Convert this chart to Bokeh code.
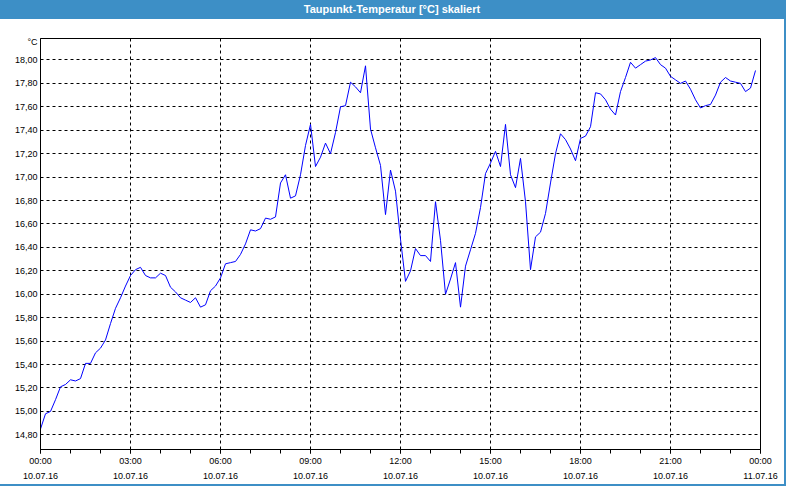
import pandas as pd
from bokeh.plotting import figure
from bokeh.models import (ColumnDataSource, Range1d, FixedTicker, Div)
from bokeh.layouts import column
from bokeh.embed import file_html
from bokeh.resources import INLINE

# ---------------- data ----------------
title_text = "Taupunkt-Temperatur [°C] skaliert"
unit_text = "°C"
unit_position = 18.15
start_time = "2016-07-10 00:00"
end_time = "2016-07-11 00:00"

dew_point = [
    14.85, 14.98, 15.00, 15.10, 15.21, 15.23, 15.27, 15.26, 15.28, 15.41,
    15.41, 15.50, 15.54, 15.61, 15.75, 15.88, 15.97, 16.07, 16.16, 16.21,
    16.23, 16.16, 16.14, 16.14, 16.18, 16.16, 16.06, 16.02, 15.97, 15.95,
    15.93, 15.97, 15.89, 15.91, 16.03, 16.07, 16.14, 16.26, 16.27, 16.28,
    16.34, 16.43, 16.55, 16.54, 16.56, 16.65, 16.64, 16.66, 16.95, 17.02,
    16.82, 16.84, 17.02, 17.27, 17.45, 17.09, 17.17, 17.29, 17.20, 17.38,
    17.60, 17.61, 17.81, 17.77, 17.72, 17.95, 17.41, 17.25, 17.10, 16.68,
    17.06, 16.88, 16.47, 16.11, 16.20, 16.39, 16.33, 16.33, 16.28, 16.79,
    16.46, 16.00, 16.13, 16.27, 15.89, 16.24, 16.38, 16.52, 16.74, 17.03,
    17.12, 17.22, 17.09, 17.45, 17.02, 16.91, 17.16, 16.79, 16.21, 16.49,
    16.53, 16.69, 16.95, 17.20, 17.37, 17.32, 17.24, 17.14, 17.33, 17.35,
    17.43, 17.72, 17.71, 17.66, 17.58, 17.53, 17.73, 17.85, 17.98, 17.93,
    17.96, 17.99, 18.00, 18.02, 17.96, 17.93, 17.86, 17.83, 17.80, 17.82,
    17.75, 17.66, 17.59, 17.61, 17.62, 17.70, 17.81, 17.85, 17.82, 17.81,
    17.80, 17.73, 17.76, 17.91,
]

x_tick_times = ["2016-07-10 00:00", "2016-07-10 03:00", "2016-07-10 06:00",
                "2016-07-10 09:00", "2016-07-10 12:00", "2016-07-10 15:00",
                "2016-07-10 18:00", "2016-07-10 21:00", "2016-07-11 00:00"]
x_tick_hours = ["00:00", "03:00", "06:00", "09:00", "12:00", "15:00",
                "18:00", "21:00", "00:00"]
x_tick_dates = ["10.07.16", "10.07.16", "10.07.16", "10.07.16", "10.07.16",
                "10.07.16", "10.07.16", "10.07.16", "11.07.16"]

y_tick_values = [14.8, 15.0, 15.2, 15.4, 15.6, 15.8, 16.0, 16.2, 16.4,
                 16.6, 16.8, 17.0, 17.2, 17.4, 17.6, 17.8, 18.0]
y_tick_labels = ["14,80", "15,00", "15,20", "15,40", "15,60", "15,80",
                 "16,00", "16,20", "16,40", "16,60", "16,80", "17,00",
                 "17,20", "17,40", "17,60", "17,80", "18,00"]

y_min, y_max = 14.675, 18.183

# ---------------- build ----------------
def to_ms(s):
    return int(pd.Timestamp(s).value // 10**6)

times = pd.date_range(start_time, periods=len(dew_point), freq="10min")
source = ColumnDataSource(data=dict(t=times, v=dew_point))

x_major = [to_ms(s) for s in x_tick_times]
x_minor = [to_ms(s) for s in pd.date_range(start_time, end_time, freq="1h")]

FONT = "Liberation Sans"
BLUE = "#3d8fc6"
W, H_TITLE, H_FIG = 784, 19, 465

p = figure(width=W, height=H_FIG, x_axis_type="datetime",
           x_range=Range1d(to_ms(start_time), to_ms(end_time)),
           y_range=Range1d(y_min, y_max),
           output_backend="svg", toolbar_location=None,
           min_border_left=40, min_border_right=24,
           min_border_top=19, min_border_bottom=0)
p.background_fill_color = "white"
p.border_fill_color = "white"
p.outline_line_color = "black"
p.outline_line_width = 1

p.line("t", "v", source=source, line_color="#0000ff", line_width=1)

# x axis (two-line labels: time / date)
xax = p.xaxis[0]
xax.ticker = FixedTicker(ticks=x_major, minor_ticks=x_minor)
xax.major_label_overrides = {t: f"{h}\n{d}" for t, h, d in
                             zip(x_major, x_tick_hours, x_tick_dates)}
xax.major_tick_in = 0
xax.major_tick_out = 4
xax.minor_tick_in = 0
xax.minor_tick_out = 4
xax.major_label_standoff = 2
xax.major_label_text_font = FONT
xax.major_label_text_font_size = "9px"
xax.major_label_text_color = "black"
xax.major_label_text_line_height = 1.55
xax.axis_line_color = "black"

# y axis (plus the unit shown at the top of the scale)
yax = p.yaxis[0]
yax.ticker = FixedTicker(ticks=y_tick_values + [unit_position])
overrides = dict(zip(y_tick_values, y_tick_labels))
overrides[unit_position] = unit_text
yax.major_label_overrides = overrides
yax.major_tick_in = 0
yax.major_tick_out = 0
yax.minor_tick_in = 0
yax.minor_tick_out = 0
yax.major_label_standoff = 3
yax.major_label_text_font = FONT
yax.major_label_text_font_size = "9px"
yax.major_label_text_color = "black"
yax.axis_line_color = "black"

# grids
p.xgrid.ticker = FixedTicker(ticks=x_major)
p.ygrid.ticker = FixedTicker(ticks=y_tick_values)
for g in (p.xgrid[0], p.ygrid[0]):
    g.grid_line_color = "black"
    g.grid_line_dash = "3 3"
    g.grid_line_width = 1

title = Div(text=f'<div style="width:{W}px;text-align:center;color:white;'
                 f'font-family:\'{FONT}\';font-weight:bold;font-size:11px;'
                 f'line-height:{H_TITLE}px;">{title_text}</div>',
            width=W, height=H_TITLE,
            styles={"background-color": BLUE, "margin": "0", "padding": "0"})

layout = column(title, p, spacing=0,
                styles={"box-shadow": f"0 0 0 2px {BLUE}"})

open("out.html", "w").write(file_html(layout, INLINE))
